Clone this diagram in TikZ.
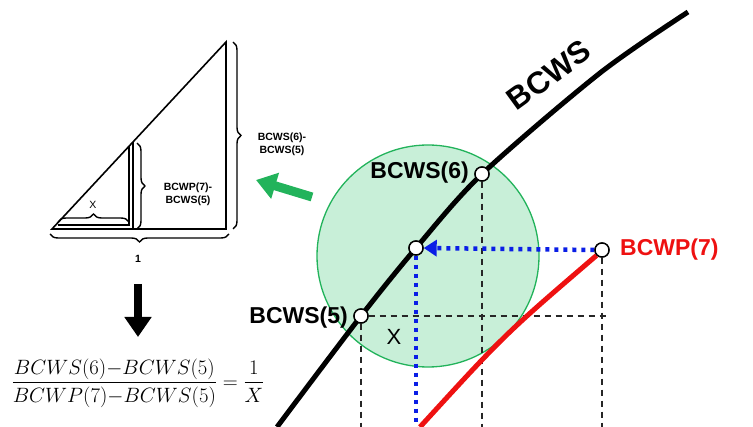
\documentclass[tikz,border=0pt]{standalone}
\usepackage[no-math]{fontspec}
\setmainfont{Liberation Sans}
\usepackage{amsmath}
\usepackage{xcolor}
\usepackage{tikz}
\usetikzlibrary{arrows.meta,decorations.pathreplacing,calc}
\definecolor{evgreen}{HTML}{22B35B}
\definecolor{evmint}{HTML}{C8EFD8}
\definecolor{evred}{HTML}{EE1111}
\definecolor{evblue}{HTML}{0A1EE6}
\tikzset{
  opendot/.style={circle,draw=black,fill=white,line width=1.4pt,minimum size=14pt,inner sep=0pt},
  biglbl/.style={font=\fontsize{23}{26}\selectfont\bfseries,inner sep=1pt},
  smalllbl/.style={font=\fontsize{10.5}{13}\selectfont\bfseries,align=center,inner sep=0pt},
  tri/.style={line width=1.6pt},
  brc/.style={decorate,decoration={brace,amplitude=8pt},line width=1.4pt},
  guide/.style={black!85,line width=1.2pt,dash pattern=on 6pt off 5pt},
  curvews/.style={line width=5pt},
  curvwp/.style={evred,line width=5pt},
  track/.style={evblue,line width=4.5pt,dash pattern=on 4pt off 5pt},
  fat/.style={line width=8pt,-{Triangle[length=20pt,width=26pt]}},
}
\begin{document}
\begin{tikzpicture}[x=1pt,y=-1pt]
\useasboundingbox (0,0) rectangle (753,427);
% similar triangles
\coordinate (ta) at (52,229);
\coordinate (tb) at (226,229);
\coordinate (tc) at (226,42);
\draw[tri] (ta) -- (tb) -- (tc) -- cycle;
\draw[tri] (58,225) -- (129,225) -- (129,146);
\draw[tri] (133,229) -- (133,142);
\draw[brc] (233,42) -- (233,229);
\draw[brc] (137,143) -- (137,229);
\draw[brc] (58,222) -- (129,222);
\draw[brc] (229,234) -- (50,234);
\node[smalllbl] (rise) at (282,144) {BCWS(6)-\\BCWS(5)};
\node[smalllbl] (part) at (188,194) {BCWP(7)-\\BCWS(5)};
\node[font=\fontsize{10.5}{12}\selectfont,inner sep=0pt] (xs) at (93,205) {X};
\node[smalllbl] (one) at (138,259) {1};
% ratio
\coordinate (dtop) at (138,284);
\coordinate (dbot) at (138,337);
\draw[fat] (dtop) -- (dbot);
\node[font=\fontsize{20.5}{22}\selectfont,inner sep=0pt] (ratio) at (138,383)
 {$\dfrac{BCWS(6){-}BCWS(5)}{BCWP(7){-}BCWS(5)}=\dfrac{1}{X}$};
% zoom circle
\node[circle,draw=evgreen,line width=1.3pt,fill=evmint,minimum size=222pt,inner sep=0pt] (zone) at (428,256) {};
\coordinate (gtip) at (256,180);
\draw[fat,evgreen,line width=9pt] ($(zone.center)+(-116,-59)$) -- (gtip);
% points
\node[opendot] (w6) at (482,174) {};
\node[opendot] (wm) at (416,248) {};
\node[opendot] (w5) at (361,316) {};
\node[opendot] (bp) at (602,250) {};
\coordinate (c0) at (277,427);
\coordinate (c8) at (600,73);
\coordinate (c9) at (688,12);
\coordinate (rb) at (420,427);
% guides
\draw[guide] (w6.south) -- (w6.south |- c0);
\draw[guide] (bp.south) -- (bp.south |- c0);
\draw[guide] (w5.south) -- (w5.south |- c0);
\draw[guide] (w5.east) -- (606,316);
% curves
\draw[curvews] plot[smooth,tension=0.5] coordinates {(c0) (w5) (wm) (w6) (c8) (c9)};
\draw[curvwp] (bp.south west) .. controls (505,334) .. (rb);
\draw[track,-{Triangle[length=13pt,width=16pt]}] (bp.west) -- (wm.east);
\draw[track] (wm.south) -- (wm.south |- c0);
\node[opendot] at (w6) {};
\node[opendot] at (wm) {};
\node[opendot] at (w5) {};
\node[opendot] at (bp) {};
% labels
\node[biglbl,anchor=east] (l6) at (470,173) {BCWS(6)};
\node[biglbl,anchor=east] (l5) at (349,318) {BCWS(5)};
\node[biglbl,anchor=west,text=evred] (l7) at (619,250) {BCWP(7)};
\node[font=\fontsize{22}{24}\selectfont,inner sep=0pt] (xb) at (394,337) {X};
\node[font=\fontsize{31}{33}\selectfont\bfseries,rotate=36,inner sep=0pt] (lw) at (549,75) {BCWS};
\end{tikzpicture}
\end{document}
